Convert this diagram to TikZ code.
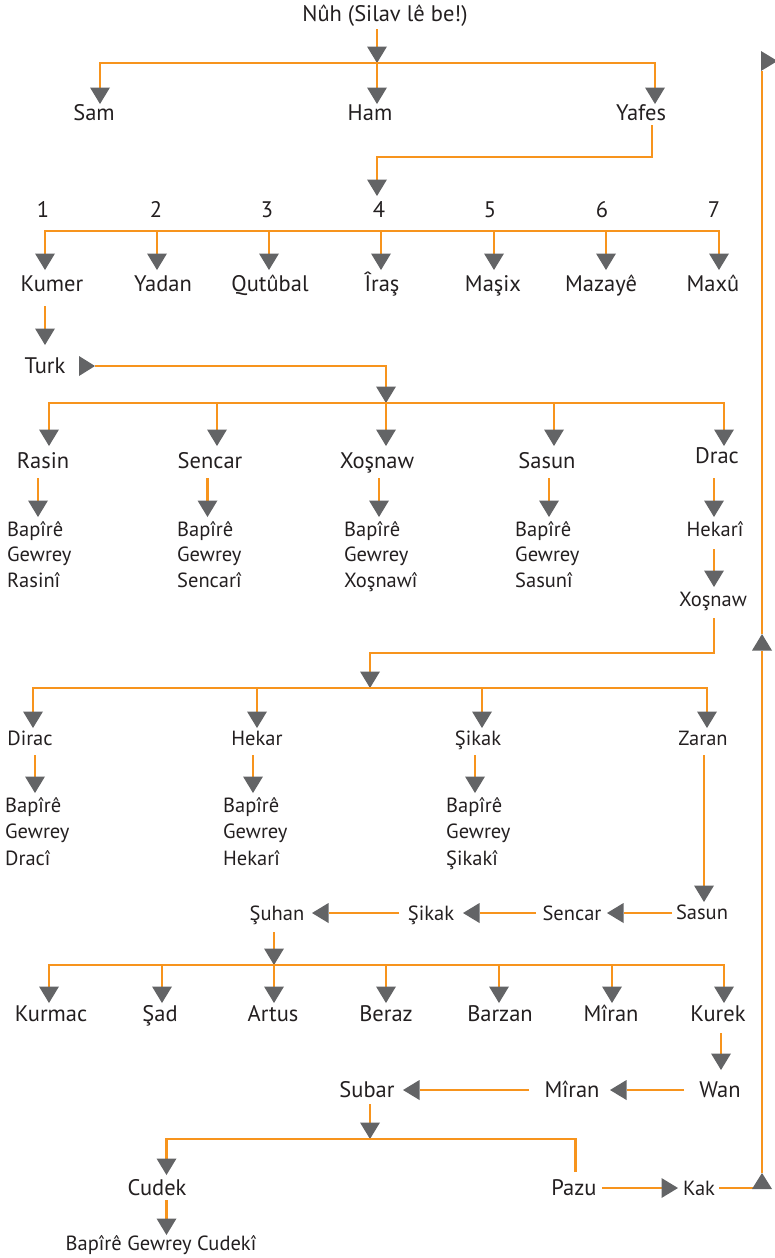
\documentclass[tikz,border=0pt]{standalone}
\usepackage{fontspec}
\setmainfont{PT Sans}
\usetikzlibrary{arrows.meta}
\definecolor{org}{HTML}{F7941D}
\definecolor{agray}{HTML}{636466}
\definecolor{tcol}{HTML}{231F20}
\newcommand{\bigsz}{\fontsize{22.5}{27}\selectfont}
\newcommand{\midsz}{\fontsize{20.5}{25}\selectfont}
\begin{document}
\begin{tikzpicture}[x=1pt,y=-1pt,
  ln/.style={draw=org,line width=2.6pt},
  arr/.style={ln,-{Triangle[width=20pt,length=16.5pt,line width=0pt,color=agray,fill=agray]}},
  big/.style={inner sep=0pt,anchor=base,text=tcol,font=\bigsz},
  mid/.style={inner sep=0pt,anchor=base,text=tcol,font=\midsz},
  lst/.style={inner sep=0pt,anchor=base west,text=tcol,font=\midsz},
  tri/.style={fill=agray}]
\useasboundingbox (0,0) rectangle (775,1258);
% ---------- texts ----------
\node[big] (nuh) at (385,21) {Nûh (Silav lê be!)};
\node[big] (sam) at (94,120) {Sam};
\node[big] (ham) at (370,120) {Ham};
\node[big] (yafes) at (641,120) {Yafes};
\foreach \n/\x in {1/43,2/156,3/267,4/379,5/490,6/602,7/714}
  \node[big] (num\n) at (\x,217) {\n};
\node[big] (kumer) at (52,291) {Kumer};
\node[big] (yadan) at (163,291) {Yadan};
\node[big] (qutubal) at (270,291) {Qutûbal};
\node[big] (iras) at (382,291) {Îraş};
\node[big] (masix) at (493,291) {Maşix};
\node[big] (mazaye) at (601,291) {Mazayê};
\node[big] (maxu) at (713,291) {Maxû};
\node[big] (turk) at (45,373) {Turk};
\node[big] (rasin) at (43,468) {Rasin};
\node[big] (sencar) at (210,468) {Sencar};
\node[big] (xosnaw) at (377,468) {Xoşnaw};
\node[big] (sasun) at (547,468) {Sasun};
\node[big] (drac) at (717,463) {Drac};
\foreach \i/\x/\w in {a/7/Rasinî,b/177/Sencarî,c/344/Xoşnawî,d/515/Sasunî}{
  \node[lst] (la\i) at (\x,536) {Bapîrê};
  \node[lst] (lb\i) at (\x,561.5) {Gewrey};
  \node[lst] (lc\i) at (\x,587) {\w};
}
\node[mid] (hekari) at (715,536) {Hekarî};
\node[mid] (xosnawb) at (713,606) {Xoşnaw};
\node[mid] (dirac) at (30,745) {Dirac};
\node[mid] (hekar) at (257,745) {Hekar};
\node[mid] (sikak) at (478,745) {Şikak};
\node[mid] (zaran) at (703,745) {Zaran};
\foreach \i/\x/\w in {a/5/Dracî,b/223/Hekarî,c/446/Şikakî}{
  \node[lst] (ma\i) at (\x,812) {Bapîrê};
  \node[lst] (mb\i) at (\x,838.5) {Gewrey};
  \node[lst] (mc\i) at (\x,865) {\w};
}
\node[mid] (sasunb) at (702,919) {Sasun};
\node[mid] (sencarb) at (572,920) {Sencar};
\node[mid] (sikakb) at (431,920) {Şikak};
\node[mid] (suhan) at (277,920) {Şuhan};
\node[big] (kurmac) at (51,1021) {Kurmac};
\node[big] (sad) at (160,1021) {Şad};
\node[big] (artus) at (273,1021) {Artus};
\node[big] (beraz) at (386,1021) {Beraz};
\node[big] (barzan) at (500,1021) {Barzan};
\node[big] (miran) at (611,1021) {Mîran};
\node[big] (kurek) at (718,1021) {Kurek};
\node[big] (wan) at (720,1097) {Wan};
\node[big] (miranb) at (572,1097) {Mîran};
\node[big] (subar) at (367,1097) {Subar};
\node[big] (cudek) at (157,1195) {Cudek};
\node[big] (pazu) at (574,1195) {Pazu};
\node[mid] (kak) at (699,1195) {Kak};
\node[mid] (cudekl) at (161,1250) {Bapîrê Gewrey Cudekî};
% ---------- connector points ----------
\coordinate (nuho) at (377,29);
\coordinate (j0) at (377,63);
\coordinate (samin) at (100,104);
\coordinate (hamin) at (377,104);
\coordinate (yafin) at (655,104);
\coordinate (yafo) at (652,125);
\coordinate (numin) at (377,196);
\coordinate (j2) at (381,231);
\coordinate (kumo) at (45,306);
\coordinate (turkin) at (45,345);
\coordinate (turko) at (95,366);
\coordinate (j3) at (386,403);
\coordinate (xbo) at (714,618);
\coordinate (j4) at (370,688);
\coordinate (zaro) at (704,755);
\coordinate (sasin) at (704,902);
\coordinate (suho) at (274,932);
\coordinate (j5) at (274,965);
\coordinate (kureko) at (721,1033);
\coordinate (wanin) at (721,1070);
\coordinate (subo) at (370,1104);
\coordinate (j6) at (370,1139);
\coordinate (cudin) at (166.5,1175);
\coordinate (pazin) at (575.6,1172);
\coordinate (cudo) at (166.5,1200);
\coordinate (cudlin) at (166.5,1235);
\coordinate (pazo) at (602,1188);
\coordinate (kakin) at (678,1188);
\coordinate (kako) at (719,1188);
\coordinate (kakc) at (753,1188);
\coordinate (rtip) at (762,1173);
\coordinate (rmid) at (762,634);
\coordinate (rtop) at (762,71);
% ---------- connectors ----------
\draw[arr] (nuho) -- (j0);
\draw[arr] (j0) -| (samin);
\draw[arr] (j0) -| (yafin);
\draw[arr] (j0) -- (hamin);
\draw[arr] (yafo) -- ++(0,32) -| (numin);
\draw[arr] (j2) -| (45,270);
\draw[arr] (j2) -| (719,270);
\foreach \x in {157,269,381,494,606} \draw[arr] (\x,231) -- (\x,270);
\draw[arr] (kumo) -- (turkin);
\fill[agray] (turko) -- ++(-16,-10) -- ++(0,20) -- cycle;
\draw[arr] (turko) -| (j3);
\draw[arr] (j3) -| (49,446);
\draw[arr] (j3) -| (724,446);
\foreach \x in {217,386,554} \draw[arr] (\x,403) -- (\x,446);
\foreach \x in {38,207.5,379,549,714} \draw[arr] (\x,478) -- (\x,517);
\draw[arr] (714,549) -- (714,587);
\draw[arr] (xbo) -- ++(0,35) -| (j4);
\draw[arr] (j4) -| (33,728);
\draw[arr] (j4) -| (707,728);
\foreach \x in {257,482} \draw[arr] (\x,688) -- (\x,728);
\foreach \x in {35,253,475} \draw[arr] (\x,755) -- (\x,793);
\draw[arr] (zaro) -- (sasin);
\draw[arr] (672,913) -- (607,913);
\draw[arr] (536,913) -- (463,913);
\draw[arr] (399,913) -- (312,913);
\draw[arr] (suho) -- (j5);
\draw[arr] (j5) -| (49,1003);
\draw[arr] (j5) -| (724,1003);
\foreach \x in {162,274,386,499,612} \draw[arr] (\x,965) -- (\x,1003);
\draw[arr] (kureko) -- (wanin);
\draw[arr] (684,1090) -- (610,1090);
\draw[arr] (529,1090) -- (403,1090);
\draw[arr] (subo) -- (j6);
\draw[arr] (j6) -| (cudin);
\draw[ln] (j6) -| (pazin);
\draw[arr] (cudo) -- (cudlin);
\draw[arr] (pazo) -- (kakin);
\draw[ln] (kako) -- (kakc);
\fill[agray] (rtip) -- ++(-10,16) -- ++(20,0) -- cycle;
\draw[arr] (rtip) -- (rmid);
\draw[ln] (rmid) -- (rtop);
\fill[agray] (761,51) -- (777.5,61) -- (761,71) -- cycle;
\end{tikzpicture}
\end{document}
